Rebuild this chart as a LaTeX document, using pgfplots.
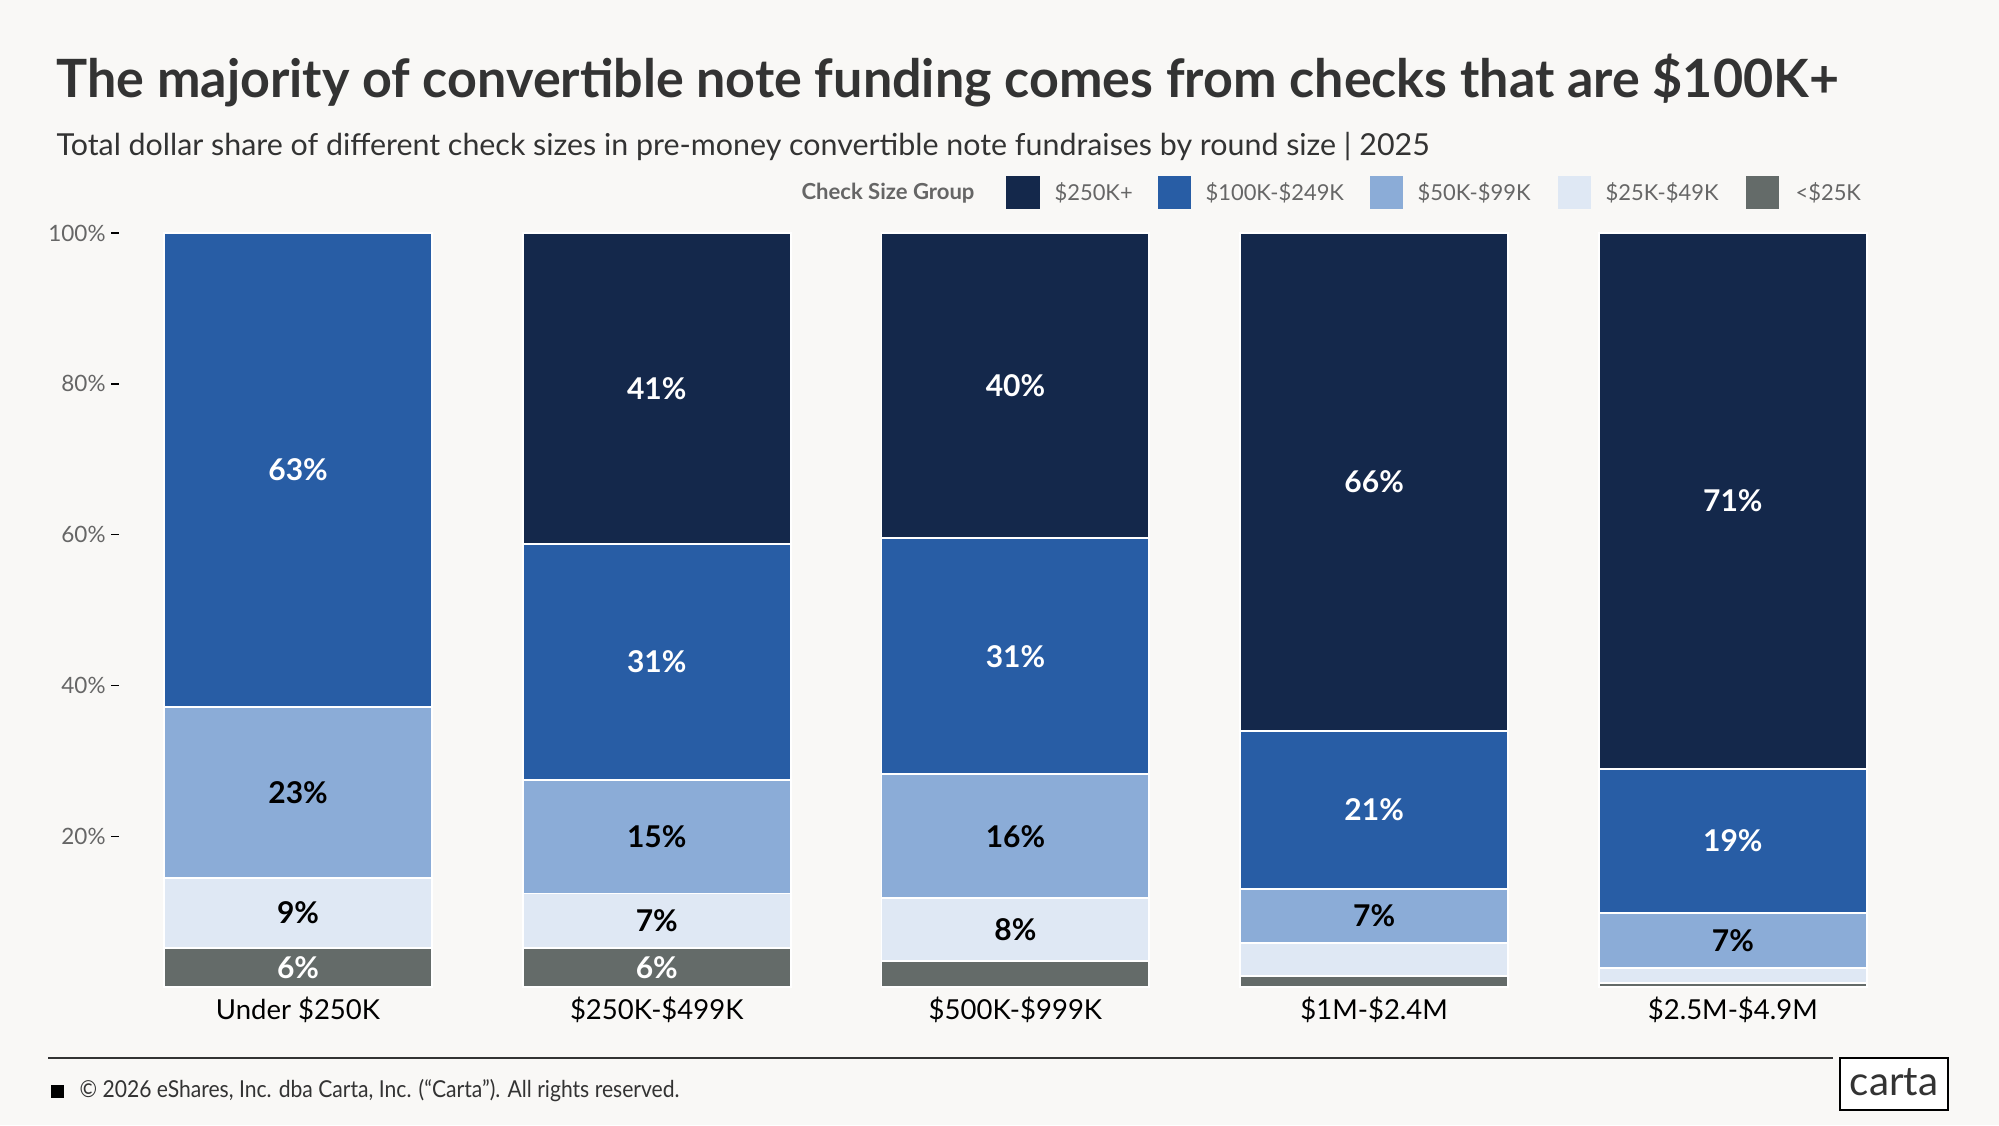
\documentclass[border=0pt]{standalone}
\usepackage{pgfplots}
\pgfplotsset{compat=1.18}
\usepackage{fontspec}
\setmainfont{Lato}
\definecolor{bg}{HTML}{F9F8F6}
\definecolor{cA}{HTML}{14284B}
\definecolor{cB}{HTML}{285DA5}
\definecolor{cC}{HTML}{8BACD7}
\definecolor{cD}{HTML}{DFE8F4}
\definecolor{cE}{HTML}{646B69}
\definecolor{ttl}{HTML}{333333}
\definecolor{gr}{HTML}{666666}
\begin{document}
\begin{tikzpicture}[x=0.36pt,y=-0.36pt]
\fill[bg] (0,0) rectangle (1999,1125);
\useasboundingbox (0,0) rectangle (1999,1125);
% title
\node[anchor=base west,inner sep=0pt,text=ttl] at (56,97) {\resizebox{641.5pt}{\height}{\fontsize{19}{22}\selectfont\bfseries The majority of convertible note funding comes from checks that are \$100K+}};
\node[anchor=base west,inner sep=0pt,text=ttl] at (56,155) {\resizebox{494.3pt}{\height}{\fontsize{10.9}{13}\selectfont Total dollar share of different check sizes in pre-money convertible note fundraises by round size | 2025}};
% legend
\node[anchor=east,inner sep=0pt,text=gr] at (975,193) {\fontsize{7.95}{10}\selectfont\bfseries Check Size Group};
\fill[cA] (1006,176) rectangle (1040,209);
\node[anchor=west,inner sep=0pt,text=gr] at (1054,193) {\fontsize{7.9}{10}\selectfont \$250K+};
\fill[cB] (1158,176) rectangle (1191,209);
\node[anchor=west,inner sep=0pt,text=gr] at (1205,193) {\fontsize{7.9}{10}\selectfont \$100K-\$249K};
\fill[cC] (1370,176) rectangle (1403,209);
\node[anchor=west,inner sep=0pt,text=gr] at (1417,193) {\fontsize{7.9}{10}\selectfont \$50K-\$99K};
\fill[cD] (1558,176) rectangle (1591,209);
\node[anchor=west,inner sep=0pt,text=gr] at (1605,193) {\fontsize{7.9}{10}\selectfont \$25K-\$49K};
\fill[cE] (1746,176) rectangle (1779,209);
\node[anchor=west,inner sep=0pt,text=gr] at (1795,193) {\fontsize{7.9}{10}\selectfont <\$25K};
% footer
\draw[color=ttl,line width=0.7pt] (48,1058) -- (1833,1058);
\fill[black] (51,1085) rectangle (64,1098);
\node[anchor=west,inner sep=0pt,text=ttl] at (79,1091) {\resizebox{216pt}{\height}{\fontsize{8.4}{10}\selectfont © 2026 eShares, Inc. dba Carta, Inc. (“Carta”). All rights reserved.}};
\draw[black,line width=0.7pt,fill=white] (1840,1058) rectangle (1948,1110);
\node[text=ttl] at (1894,1082) {\fontsize{14.5}{16}\selectfont carta};
\begin{axis}[
  at={(42.73pt,-355.32pt)}, anchor=south west,
  scale only axis, width=645.66pt, height=271.44pt,
  ybar stacked, bar width=0.747,
  xmin=-0.5, xmax=4.5, ymin=0, ymax=100,
  axis line style={draw=none},
  xtick=data,
  xticklabels={Under \$250K,\$250K-\$499K,\$500K-\$999K,\$1M-\$2.4M,\$2.5M-\$4.9M},
  x tick style={draw=none},
  xticklabel style={font=\fontsize{9.9}{12}\selectfont, text=black, yshift=2.5pt},
  ytick={20,40,60,80,100},
  ytick pos=left,
  yticklabel={\pgfmathprintnumber{\tick}\%},
  yticklabel style={font=\fontsize{8.1}{10}\selectfont, text=gr, xshift=1.4pt},
  y tick style={draw=black, line width=0.5pt},
  tick align=outside, major tick length=2.6pt,
  /pgf/number format/assume math mode=true,
  point meta=explicit symbolic,
  nodes near coords,
  every node near coord/.append style={anchor=center, font=\fontsize{10.8}{12}\selectfont\bfseries},
  clip=false,
]
\addplot[fill=cE, draw=white, line width=0.7pt, every node near coord/.append style={text=white}] coordinates {(0,5.2) [6\%] (1,5.2) [6\%] (2,3.5) [] (3,1.4) [] (4,0.5) []};
\addplot[fill=cD, draw=white, line width=0.7pt, every node near coord/.append style={text=black}] coordinates {(0,9.3) [9\%] (1,7.2) [7\%] (2,8.3) [8\%] (3,4.4) [] (4,2.0) []};
\addplot[fill=cC, draw=white, line width=0.7pt, every node near coord/.append style={text=black}] coordinates {(0,22.6) [23\%] (1,15.1) [15\%] (2,16.4) [16\%] (3,7.2) [7\%] (4,7.3) [7\%]};
\addplot[fill=cB, draw=white, line width=0.7pt, every node near coord/.append style={text=white}] coordinates {(0,62.9) [63\%] (1,31.3) [31\%] (2,31.3) [31\%] (3,21.0) [21\%] (4,19.1) [19\%]};
\addplot[fill=cA, draw=white, line width=0.7pt, every node near coord/.append style={text=white}] coordinates {(0,0) [] (1,41.2) [41\%] (2,40.5) [40\%] (3,66.0) [66\%] (4,71.1) [71\%]};
\end{axis}
\end{tikzpicture}
\end{document}
